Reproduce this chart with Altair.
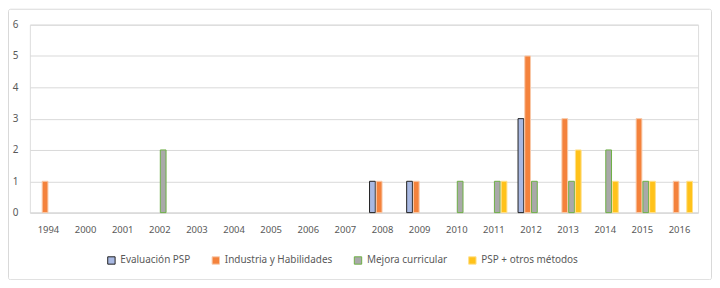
import altair as alt
import pandas as pd

years = ["1994", "2000", "2001", "2002", "2003", "2004", "2005", "2006", "2007",
         "2008", "2009", "2010", "2011", "2012", "2013", "2014", "2015", "2016"]
series = ["Evaluación PSP", "Industria y Habilidades", "Mejora curricular", "PSP + otros métodos"]
evaluacion = [0, 0, 0, 0, 0, 0, 0, 0, 0, 1, 1, 0, 0, 3, 0, 0, 0, 0]
industria = [1, 0, 0, 0, 0, 0, 0, 0, 0, 1, 1, 0, 0, 5, 3, 0, 3, 1]
mejora = [0, 0, 0, 2, 0, 0, 0, 0, 0, 0, 0, 1, 1, 1, 1, 2, 1, 0]
psp_otros = [0, 0, 0, 0, 0, 0, 0, 0, 0, 0, 0, 0, 1, 0, 2, 1, 1, 1]

fills = ["#A9B9E3", "#F4823C", "#A9A9A9", "#FFC21A"]
strokes = ["#1F1F1F", "#F8C9A8", "#6DAF45", "#FFE08A"]

rows = []
for s, vals in zip(series, [evaluacion, industria, mejora, psp_otros]):
    for y, v in zip(years, vals):
        rows.append({"Año": y, "Serie": s, "Valor": v})
df = pd.DataFrame(rows)

font = "Noto Sans"
txt = "#595959"

bars = alt.Chart(df).mark_bar(strokeWidth=1).encode(
    x=alt.X("Año:N", sort=years, title=None,
            scale=alt.Scale(domain=years, paddingInner=0.3, paddingOuter=0.15),
            axis=alt.Axis(labelAngle=0, ticks=False, domain=True, domainColor="#D9D9D9",
                          labelColor=txt, labelFont=font, labelFontSize=9.5, labelPadding=12)),
    xOffset=alt.XOffset("Serie:N", sort=series,
                        scale=alt.Scale(domain=series, paddingInner=0.15)),
    y=alt.Y("Valor:Q", title=None, scale=alt.Scale(domain=[0, 6]),
            axis=alt.Axis(values=[0, 1, 2, 3, 4, 5, 6], ticks=False, domain=False,
                          gridColor="#D9D9D9", labelColor=txt, labelFont=font,
                          labelFontSize=10, labelPadding=12)),
    fill=alt.Fill("Serie:N", sort=series, title=None,
                  scale=alt.Scale(domain=series, range=fills),
                  legend=alt.Legend(orient="none", legendX=77, legendY=232,
                                    direction="horizontal", symbolType="square",
                                    symbolSize=55, symbolStrokeWidth=1, labelFont=font,
                                    labelFontSize=10, labelColor=txt, columnPadding=19,
                                    labelOffset=4)),
    stroke=alt.Stroke("Serie:N", sort=series, title=None,
                      scale=alt.Scale(domain=series, range=strokes)),
).transform_filter(alt.datum.Valor > 0)

border = alt.Chart(pd.DataFrame({"a": [0]})).mark_rect(
    fill=None, stroke="#D9D9D9", strokeWidth=1, cornerRadius=2
).encode(x=alt.value(-21.5), x2=alt.value(685.5), y=alt.value(-15.5), y2=alt.value(256.5))

chart = alt.layer(border, bars).properties(
    width=672, height=189,
    autosize=alt.AutoSizeParams(type="none"),
    padding={"left": 22, "top": 16, "right": 14, "bottom": 67},
).configure_view(stroke=None).configure(background="white")

chart.save("out.html", embed_options={"renderer": "svg", "actions": False})
